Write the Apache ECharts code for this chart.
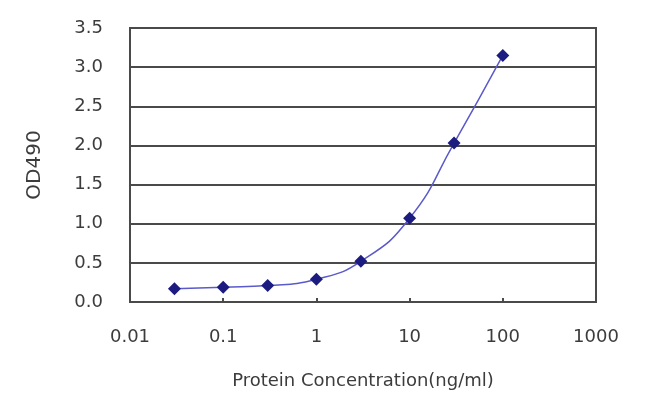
<!DOCTYPE html>
<html><head><meta charset="utf-8">
<script src="https://cdn.jsdelivr.net/npm/echarts@6/dist/echarts.min.js"></script>
<style>html,body{margin:0;padding:0;background:#fff}#c{width:650px;height:404px}</style>
</head><body><div id="c"></div>
<script>
var concentrations = [0.03, 0.1, 0.3, 1, 3, 10, 30, 100];
var od490 = [0.17, 0.19, 0.21, 0.29, 0.52, 1.07, 2.03, 3.15];
var xTickLabels = ['0.01', '0.1', '1', '10', '100', '1000'];
var yTickLabels = ['0.0', '0.5', '1.0', '1.5', '2.0', '2.5', '3.0', '3.5'];

var chart = echarts.init(document.getElementById('c'), null, {renderer: 'canvas'});
var font = 'DejaVu Sans, Arial, sans-serif';
chart.setOption({
  animation: false,
  backgroundColor: '#fff',
  grid: {left: 130, top: 28, right: 54, bottom: 102, show: true, borderColor: '#4a4a4a', borderWidth: 2, backgroundColor: 'transparent'},
  xAxis: {
    type: 'log', logBase: 10, min: 0.01, max: 1000,
    name: 'Protein Concentration(ng/ml)', nameLocation: 'middle', nameGap: 70,
    nameTextStyle: {color: '#3c3c3c', fontSize: 18, fontFamily: font},
    axisLine: {show: true, lineStyle: {color: '#4a4a4a', width: 2}},
    axisTick: {show: true, inside: true, length: 4, lineStyle: {color: '#4a4a4a', width: 2}},
    splitLine: {show: false},
    axisLabel: {color: '#3c3c3c', fontSize: 18, fontFamily: font, margin: 26,
      formatter: function (v) { var i = Math.round(Math.log10(v)) + 2; return xTickLabels[i]; }}
  },
  yAxis: {
    type: 'value', min: 0, max: 3.5, interval: 0.5,
    name: 'OD490', nameLocation: 'middle', nameGap: 85, nameRotate: 90,
    nameTextStyle: {color: '#3c3c3c', fontSize: 20, fontFamily: font},
    axisLine: {show: true, lineStyle: {color: '#4a4a4a', width: 2}},
    axisTick: {show: false},
    splitLine: {show: true, lineStyle: {color: '#4a4a4a', width: 2}},
    axisLabel: {color: '#3c3c3c', fontSize: 18, fontFamily: font, margin: 27,
      formatter: function (v) { return yTickLabels[Math.round(v * 2)]; }}
  },
  series: [{
    type: 'line', smooth: true,
    data: concentrations.map(function (c, i) { return [c, od490[i]]; }),
    symbol: 'diamond', symbolSize: 13,
    itemStyle: {color: '#1c1c80'},
    lineStyle: {color: '#5a5acc', width: 1.5}
  }]
});
</script></body></html>
